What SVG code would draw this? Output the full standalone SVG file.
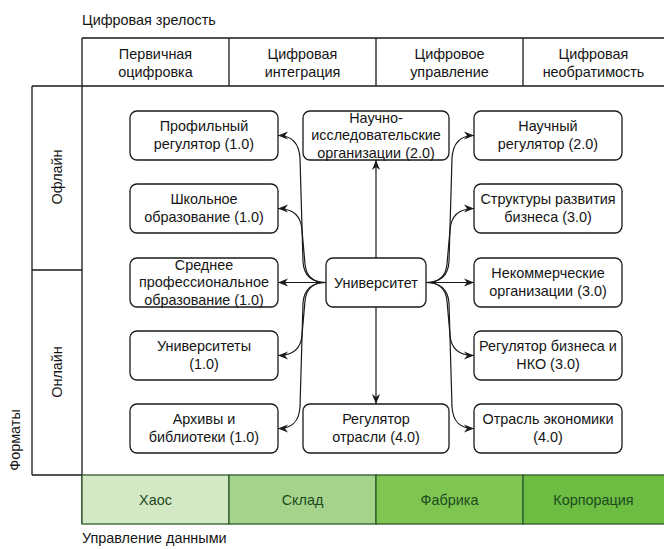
<svg xmlns="http://www.w3.org/2000/svg" width="664" height="549" viewBox="0 0 664 549">
<defs>
<style>
text{font-family:"Liberation Sans",Arial,sans-serif;font-size:14.4px;fill:#151515;text-anchor:middle}
.lbl{text-anchor:start}
.frame{stroke:#1a1a1a;stroke-width:1.3;fill:none}
.node rect{fill:#fff;stroke:#1a1a1a;stroke-width:1.3}
.edge{fill:none;stroke:#1a1a1a;stroke-width:1.2;marker-end:url(#arr)}
.band{stroke:#2e5a2a;stroke-width:1.3}
.gt{fill:#1d4a1d}
</style>
<marker id="arr" viewBox="0 0 10 10" refX="10" refY="5" markerWidth="10" markerHeight="10" markerUnits="userSpaceOnUse" orient="auto">
<path d="M0,1 L10,5 L0,9 L3,5 Z" fill="#1a1a1a"/>
</marker>
</defs>
<rect width="664" height="549" fill="#fff"/>

<g id="labels">
<text class="lbl" x="82" y="25">Цифровая зрелость</text>
<text class="lbl" x="82" y="543">Управление данными</text>
<text transform="translate(20,440) rotate(-90)">Форматы</text>
</g>

<g id="frame">
<path class="frame" d="M82,38 H664 M32,86 H664 M82,38 V524 M229,38 V86 M376,38 V86 M523,38 V86 M32,86 V475 M32,270 H82 M32,475 H82"/>
</g>

<g id="header">
<text x="155.5" y="58.5">Первичная</text><text x="155.5" y="76.5">оцифровка</text>
<text x="302.5" y="58.5">Цифровая</text><text x="302.5" y="76.5">интеграция</text>
<text x="449.5" y="58.5">Цифровое</text><text x="449.5" y="76.5">управление</text>
<text x="593.5" y="58.5">Цифровая</text><text x="593.5" y="76.5">необратимость</text>
</g>

<g id="rows">
<text transform="translate(62,177) rotate(-90)">Офлайн</text>
<text transform="translate(62,372) rotate(-90)">Онлайн</text>
</g>

<g id="data-band">
<rect class="band" x="82" y="475" width="147" height="49" fill="#d3e8c4"/>
<rect class="band" x="229" y="475" width="147" height="49" fill="#a5d38c"/>
<rect class="band" x="376" y="475" width="147" height="49" fill="#7fc551"/>
<rect class="band" x="523" y="475" width="150" height="49" fill="#6cbd42"/>
<text class="gt" x="155.5" y="504.5">Хаос</text>
<text class="gt" x="302.5" y="504.5">Склад</text>
<text class="gt" x="449.5" y="504.5">Фабрика</text>
<text class="gt" x="593.5" y="504.5">Корпорация</text>
</g>

<g id="connectors">
<path class="edge" d="M326,282.5 C312,282.5 304,276 303,262 L300,158 C299,143 292,135.5 278,135.5"/>
<path class="edge" d="M326,282.5 C313,282.5 306,276 305,264 L302,230 C301,216 293,208.5 278,208.5"/>
<path class="edge" d="M326,282.5 H278"/>
<path class="edge" d="M326,282.5 C313,282.5 306,289 305,301 L302,335 C301,349 293,355.5 278,355.5"/>
<path class="edge" d="M326,282.5 C312,282.5 304,289 303,303 L300,407 C299,422 292,428.5 278,428.5"/>
<path class="edge" d="M426,282.5 C440,282.5 448,276 449,262 L452,158 C453,143 460,135.5 474,135.5"/>
<path class="edge" d="M426,282.5 C439,282.5 446,276 447,264 L450,230 C451,216 459,208.5 474,208.5"/>
<path class="edge" d="M426,282.5 H474"/>
<path class="edge" d="M426,282.5 C439,282.5 446,289 447,301 L450,335 C451,349 459,355.5 474,355.5"/>
<path class="edge" d="M426,282.5 C440,282.5 448,289 449,303 L452,407 C453,422 460,428.5 474,428.5"/>
<path class="edge" d="M376,258 V160"/>
<path class="edge" d="M376,307 V404"/>
</g>

<g id="n-prof" class="node"><rect x="130" y="111" width="148" height="49" rx="7"/><text x="204" y="131">Профильный</text><text x="204" y="149">регулятор (1.0)</text></g>
<g id="n-school" class="node"><rect x="130" y="184" width="148" height="49" rx="7"/><text x="204" y="204">Школьное</text><text x="204" y="222">образование (1.0)</text></g>
<g id="n-spo" class="node"><rect x="130" y="258" width="148" height="49" rx="7"/><text x="204" y="269.5">Среднее</text><text x="204" y="287">профессиональное</text><text x="204" y="304.5">образование (1.0)</text></g>
<g id="n-univs" class="node"><rect x="130" y="331" width="148" height="49" rx="7"/><text x="204" y="351">Университеты</text><text x="204" y="369">(1.0)</text></g>
<g id="n-arch" class="node"><rect x="130" y="404" width="148" height="49" rx="7"/><text x="204" y="424">Архивы и</text><text x="204" y="442">библиотеки (1.0)</text></g>

<g id="n-nio" class="node"><rect x="303" y="111" width="146" height="49" rx="7"/><text x="376" y="122.5">Научно-</text><text x="376" y="140">исследовательские</text><text x="376" y="157.5">организации (2.0)</text></g>
<g id="n-univ" class="node"><rect x="326" y="258" width="100" height="49" rx="7"/><text x="376" y="287.5">Университет</text></g>
<g id="n-regotr" class="node"><rect x="303" y="404" width="146" height="49" rx="7"/><text x="376" y="424">Регулятор</text><text x="376" y="442">отрасли (4.0)</text></g>

<g id="n-sci" class="node"><rect x="474" y="111" width="148" height="49" rx="7"/><text x="548" y="131">Научный</text><text x="548" y="149">регулятор (2.0)</text></g>
<g id="n-struct" class="node"><rect x="474" y="184" width="148" height="49" rx="7"/><text x="548" y="204">Структуры развития</text><text x="548" y="222">бизнеса (3.0)</text></g>
<g id="n-nko" class="node"><rect x="474" y="258" width="148" height="49" rx="7"/><text x="548" y="278">Некоммерческие</text><text x="548" y="296">организации (3.0)</text></g>
<g id="n-regbiz" class="node"><rect x="474" y="331" width="148" height="49" rx="7"/><text x="548" y="351">Регулятор бизнеса и</text><text x="548" y="369">НКО (3.0)</text></g>
<g id="n-ind" class="node"><rect x="474" y="404" width="148" height="49" rx="7"/><text x="548" y="424">Отрасль экономики</text><text x="548" y="442">(4.0)</text></g>
</svg>
